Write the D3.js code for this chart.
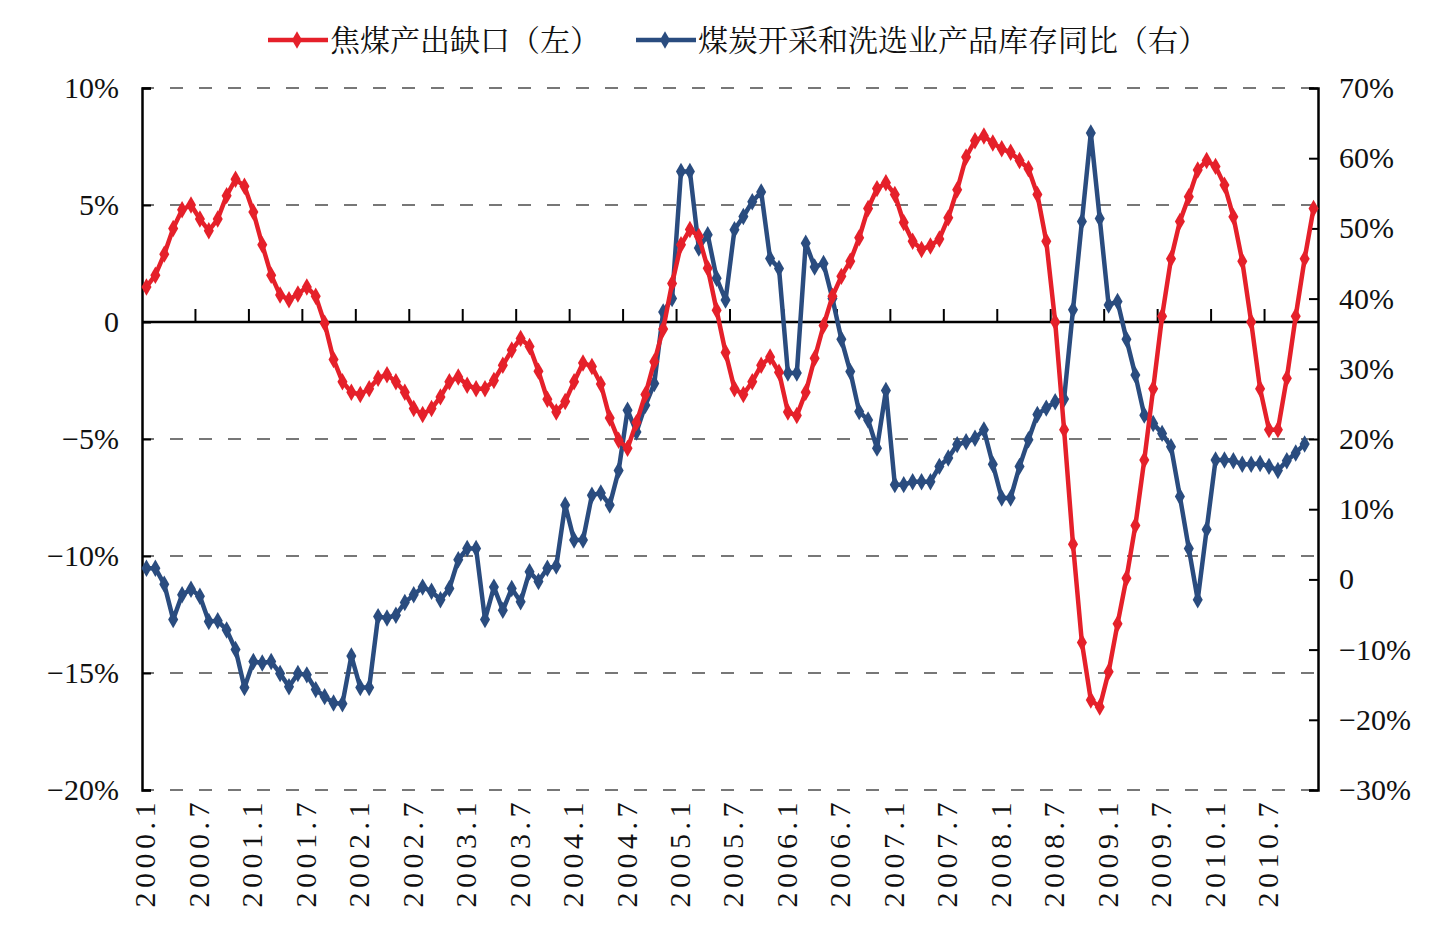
<!DOCTYPE html>
<html>
<head>
<meta charset="utf-8">
<script src="https://cdn.jsdelivr.net/npm/d3@7"></script>
<style>
  body { margin: 0; background: #fff; }
  .num { font-family: "Liberation Serif", "Times New Roman", serif; }
  .cjk { font-family: "Noto Serif CJK SC", "Noto Sans CJK SC", serif; }
</style>
</head>
<body>
<div id="chart"></div>
<script>
// months 2000.1 .. 2010.12
var years = [2000, 2001, 2002, 2003, 2004, 2005, 2006, 2007, 2008, 2009, 2010];
var months = [];
years.forEach(y => { for (var m = 1; m <= 12; m++) months.push(y + "." + m); });

var tickLabels = ["2000.1","2000.7","2001.1","2001.7","2002.1","2002.7","2003.1","2003.7",
  "2004.1","2004.7","2005.1","2005.7","2006.1","2006.7","2007.1","2007.7",
  "2008.1","2008.7","2009.1","2009.7","2010.1","2010.7"];

var leftTicks = [10, 5, 0, -5, -10, -15, -20];
var rightTicks = [70, 60, 50, 40, 30, 20, 10, 0, -10, -20, -30];

var seriesNames = ["焦煤产出缺口（左）", "煤炭开采和洗选业产品库存同比（右）"];

// 焦煤产出缺口 (%), left axis
var gapValues = [
  1.5, 2.0, 2.9, 4.0, 4.8, 5.0, 4.4, 3.9, 4.4, 5.4,
  6.1, 5.8, 4.7, 3.3, 2.0, 1.15, 0.95, 1.2, 1.5, 1.1,
  -0.05, -1.6, -2.55, -3.0, -3.1, -2.85, -2.4, -2.25, -2.55, -3.0,
  -3.7, -3.95, -3.7, -3.2, -2.55, -2.35, -2.7, -2.85, -2.85, -2.5,
  -1.85, -1.2, -0.7, -1.05, -2.1, -3.3, -3.85, -3.4, -2.55, -1.75,
  -1.9, -2.65, -4.1, -5.05, -5.4, -4.3, -3.1, -1.7, -0.3, 1.65,
  3.3, 3.95, 3.65, 2.3, 0.5, -1.3, -2.85, -3.1, -2.55, -1.85,
  -1.5, -2.15, -3.85, -4.0, -3.0, -1.55, -0.15, 1.1, 1.95, 2.6,
  3.6, 4.85, 5.7, 5.95, 5.45, 4.25, 3.45, 3.1, 3.25, 3.55,
  4.45, 5.65, 7.05, 7.75, 7.95, 7.65, 7.4, 7.25, 6.9, 6.55,
  5.45, 3.45, 0.0, -4.6, -9.5, -13.7, -16.15, -16.45, -14.95, -12.9,
  -10.95, -8.7, -5.9, -2.85, 0.25, 2.7, 4.3, 5.35, 6.5, 6.9,
  6.65, 5.85, 4.5, 2.6, 0.0, -2.85, -4.6, -4.6, -2.4, 0.25,
  2.7, 4.85
];

// 煤炭开采和洗选业产品库存同比 (%), right axis (no 2010.12 value)
var stockValues = [
  1.6, 1.6, -0.7, -5.7, -2.2, -1.4, -2.4, -6.0, -5.9, -7.2,
  -10.0, -15.4, -11.7, -11.9, -11.7, -13.4, -15.3, -13.4, -13.6, -15.7,
  -16.7, -17.6, -17.7, -10.9, -15.4, -15.4, -5.3, -5.5, -5.1, -3.3,
  -2.2, -1.1, -1.7, -2.9, -1.3, 2.8, 4.4, 4.4, -5.7, -1.1,
  -4.4, -1.3, -3.2, 1.1, -0.3, 1.6, 1.9, 10.6, 5.6, 5.6,
  12.0, 12.3, 10.6, 15.5, 24.1, 21.0, 24.8, 27.9, 38.1, 40.0,
  58.1, 58.1, 47.2, 49.1, 42.9, 39.8, 49.8, 51.7, 53.8, 55.2,
  45.7, 44.3, 29.4, 29.4, 47.9, 44.5, 45.0, 40.0, 34.2, 29.6,
  23.9, 22.7, 18.7, 26.9, 13.5, 13.5, 13.9, 13.9, 13.9, 16.1,
  17.3, 19.2, 19.6, 20.1, 21.3, 16.4, 11.6, 11.6, 16.1, 19.9,
  23.5, 24.4, 25.3, 25.7, 38.4, 51.0, 63.6, 51.4, 39.1, 39.6,
  34.2, 29.1, 23.4, 22.2, 20.8, 18.9, 11.8, 4.4, -2.9, 7.1,
  17.0, 17.0, 16.9, 16.4, 16.4, 16.5, 16.1, 15.5, 16.9, 18.0,
  19.3
];

var svgWidth = 1451, svgHeight = 939;
var plot = { left: 142, right: 1318, top: 88, bottom: 790 };
var red = "#e5202a", blue = "#2a4c7f";

var svg = d3.select("#chart").append("svg")
  .attr("width", svgWidth)
  .attr("height", svgHeight)
  .style("background", "#fff");

var x = d3.scaleBand().domain(months).range([plot.left, plot.right]).padding(0);
var yL = d3.scaleLinear().domain([-20, 10]).range([plot.bottom, plot.top]);
var yR = d3.scaleLinear().domain([-30, 70]).range([plot.bottom, plot.top]);
var cx = d => x(d) + x.bandwidth() / 2;

function pct(v) {
  if (v === 0) return "0";
  return (v < 0 ? "\u2212" + Math.abs(v) : v) + "%";
}

// dashed grid
svg.append("g").selectAll("line")
  .data(leftTicks.filter(d => d !== 0))
  .enter().append("line")
  .attr("x1", plot.left).attr("x2", plot.right)
  .attr("y1", d => yL(d)).attr("y2", d => yL(d))
  .attr("stroke", "#777").attr("stroke-width", 2)
  .attr("stroke-dasharray", "13,16").attr("stroke-dashoffset", 1);

// left axis
var leftAxis = d3.axisRight(yL).tickValues(leftTicks).tickSize(9).tickFormat("");
var gL = svg.append("g").attr("transform", `translate(${plot.left},0)`).call(leftAxis);
gL.select(".domain").attr("stroke", "#000").attr("stroke-width", 2.5);
gL.selectAll(".tick line").attr("stroke", "#000").attr("stroke-width", 2);
svg.append("g").selectAll("text")
  .data(leftTicks).enter().append("text")
  .attr("class", "num")
  .attr("x", 119).attr("y", d => yL(d) + 10)
  .attr("text-anchor", "end")
  .style("font-size", "30px").attr("fill", "#111")
  .text(pct);

// right axis
var rightAxis = d3.axisLeft(yR).tickValues(rightTicks).tickSize(9).tickFormat("");
var gR = svg.append("g").attr("transform", `translate(${plot.right},0)`).call(rightAxis);
gR.select(".domain").attr("stroke", "#000").attr("stroke-width", 2.5);
gR.selectAll(".tick line").attr("stroke", "#000").attr("stroke-width", 2);
svg.append("g").selectAll("text")
  .data(rightTicks).enter().append("text")
  .attr("class", "num")
  .attr("x", 1339).attr("y", d => yR(d) + 10)
  .attr("text-anchor", "start")
  .style("font-size", "30px").attr("fill", "#111")
  .text(pct);

// category axis on the zero line, ticks between categories every 6 months
var boundaryTicks = months.filter((m, i) => i > 0 && i % 6 === 0);
svg.append("line")
  .attr("x1", plot.left).attr("x2", plot.right)
  .attr("y1", yL(0)).attr("y2", yL(0))
  .attr("stroke", "#000").attr("stroke-width", 2.5);
svg.append("g").selectAll("line")
  .data(boundaryTicks).enter().append("line")
  .attr("x1", d => x(d)).attr("x2", d => x(d))
  .attr("y1", yL(0)).attr("y2", yL(0) - 13)
  .attr("stroke", "#000").attr("stroke-width", 2);

// rotated month labels under the plot
svg.append("g").selectAll("text")
  .data(tickLabels).enter().append("text")
  .attr("class", "num")
  .attr("transform", d => `translate(${cx(d) + 9},${plot.bottom + 8}) rotate(-90)`)
  .attr("text-anchor", "end")
  .style("font-size", "30px").style("letter-spacing", "4.5px")
  .attr("fill", "#111")
  .text(d => d);

// series
var diamond = d3.symbol().type(d3.symbolDiamond).size(88);

function drawSeries(values, yScale, color) {
  var pts = values.map((v, i) => ({ m: months[i], v: v }));
  var line = d3.line().x(d => cx(d.m)).y(d => yScale(d.v));
  svg.append("path").datum(pts)
    .attr("d", line)
    .attr("fill", "none").attr("stroke", color)
    .attr("stroke-width", 4.5).attr("stroke-linejoin", "round");
  svg.append("g").selectAll("path")
    .data(pts).enter().append("path")
    .attr("d", diamond)
    .attr("transform", d => `translate(${cx(d.m)},${yScale(d.v)})`)
    .attr("fill", color);
}

drawSeries(stockValues, yR, blue);
drawSeries(gapValues, yL, red);

// legend
var legend = [
  { name: seriesNames[0], color: red, x0: 268 },
  { name: seriesNames[1], color: blue, x0: 636 }
];
var lg = svg.append("g").selectAll("g").data(legend).enter().append("g")
  .attr("transform", d => `translate(${d.x0},40)`);
lg.append("line").attr("x1", 0).attr("x2", 60)
  .attr("stroke", d => d.color).attr("stroke-width", 4.5);
lg.append("path").attr("d", diamond).attr("transform", "translate(29,0)")
  .attr("fill", d => d.color);
lg.append("text").attr("class", "cjk")
  .attr("x", 62).attr("y", 11)
  .style("font-size", "30px").attr("fill", "#111")
  .text(d => d.name);
</script>
</body>
</html>
